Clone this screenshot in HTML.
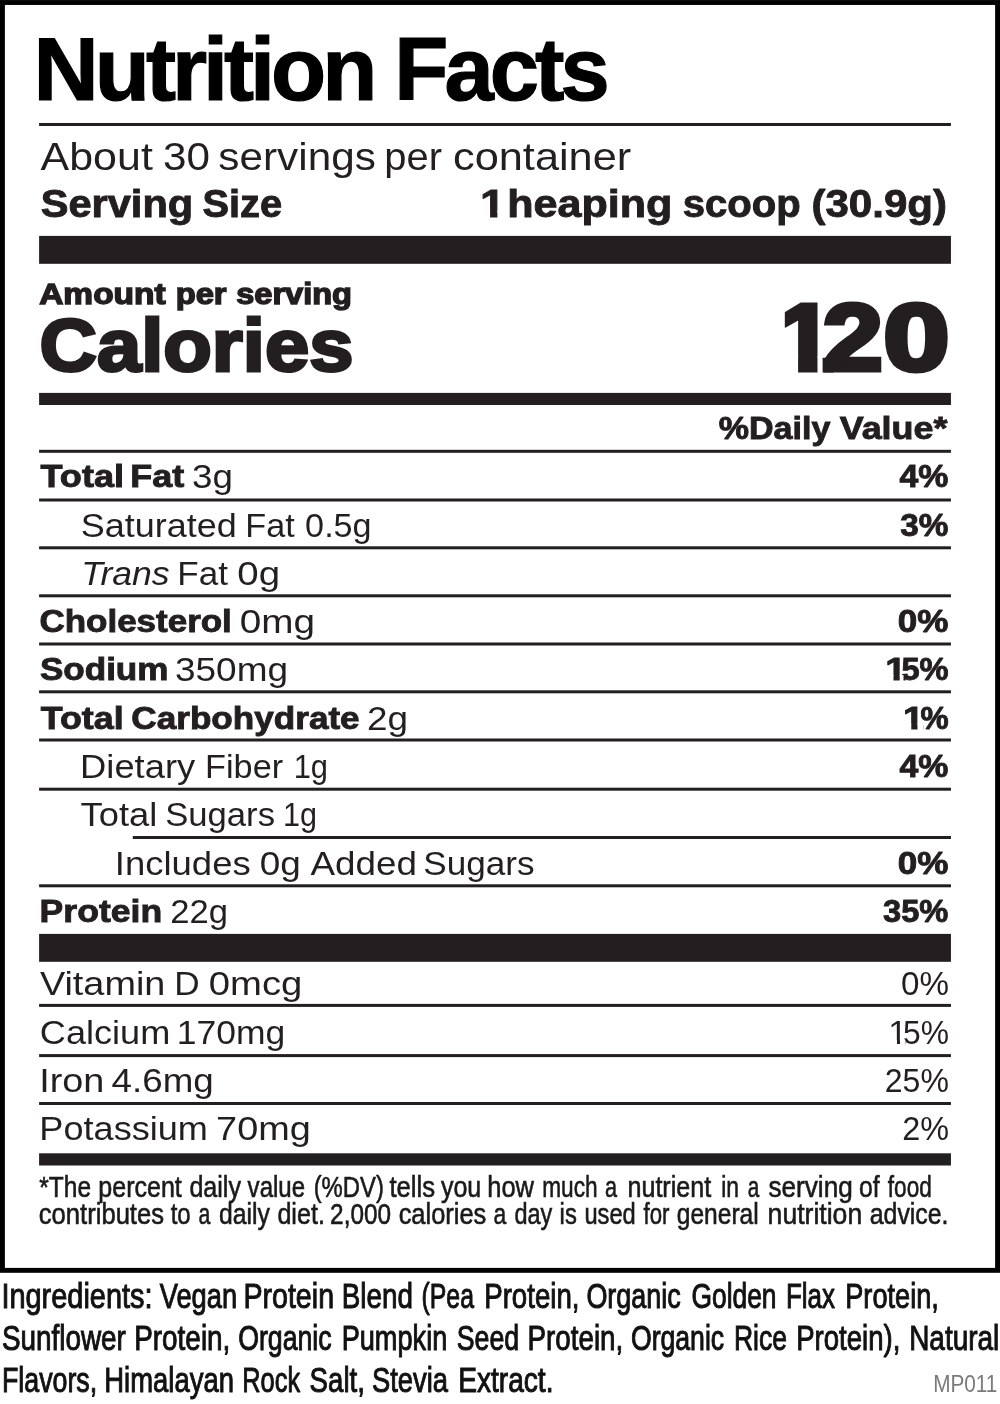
<!DOCTYPE html>
<html lang="en"><head><meta charset="utf-8"><title>Nutrition Facts</title>
<style>html,body{margin:0;padding:0;background:#fff}body{width:1000px;height:1404px;overflow:hidden}svg{display:block}text{white-space:pre}</style></head><body>
<svg width="1000" height="1404" viewBox="0 0 1000 1404">
<defs><mask id="c0" maskUnits="userSpaceOnUse" x="0" y="0" width="1000" height="1404"><rect x="0" y="0" width="1000" height="1404" fill="#fff"/><rect x="478.42" y="210.83" width="11.66" height="10.27" fill="#000"/><rect x="497.40" y="210.83" width="10.08" height="10.27" fill="#000"/></mask><mask id="c1" maskUnits="userSpaceOnUse" x="0" y="0" width="1000" height="1404"><rect x="0" y="0" width="1000" height="1404" fill="#fff"/><rect x="772.71" y="356.49" width="25.38" height="24.21" fill="#000"/><rect x="817.50" y="356.49" width="5.10" height="24.21" fill="#000"/><rect x="766.59" y="296.90" width="18.21" height="59.59" fill="#000"/></mask><mask id="c2" maskUnits="userSpaceOnUse" x="0" y="0" width="1000" height="1404"><rect x="0" y="0" width="1000" height="1404" fill="#fff"/><rect x="883.18" y="675.01" width="10.29" height="9.59" fill="#000"/><rect x="899.70" y="675.01" width="3.80" height="9.59" fill="#000"/></mask><mask id="c3" maskUnits="userSpaceOnUse" x="0" y="0" width="1000" height="1404"><rect x="0" y="0" width="1000" height="1404" fill="#fff"/><rect x="900.98" y="723.81" width="10.29" height="9.59" fill="#000"/><rect x="917.50" y="723.81" width="5.90" height="9.59" fill="#000"/></mask><mask id="c4" maskUnits="userSpaceOnUse" x="0" y="0" width="1000" height="1404"><rect x="0" y="0" width="1000" height="1404" fill="#fff"/><rect x="887.99" y="1039.67" width="8.99" height="7.03" fill="#000"/><rect x="900.00" y="1039.67" width="5.30" height="7.03" fill="#000"/></mask></defs>
<rect x="0" y="0" width="1000" height="1404" fill="#fff"/>
<rect x="2.45" y="2.5" width="995.1" height="1267.85" fill="none" stroke="#000" stroke-width="4.9"/>
<rect x="39.10" y="123.00" width="911.85" height="3.00" fill="#231f20"/>
<rect x="39.10" y="235.90" width="911.85" height="27.90" fill="#231f20"/>
<rect x="39.10" y="392.90" width="911.85" height="12.10" fill="#231f20"/>
<rect x="39.10" y="449.80" width="911.85" height="3.00" fill="#231f20"/>
<rect x="39.10" y="498.50" width="911.85" height="3.00" fill="#231f20"/>
<rect x="39.10" y="546.30" width="911.85" height="3.00" fill="#231f20"/>
<rect x="39.10" y="594.30" width="911.85" height="3.00" fill="#231f20"/>
<rect x="39.10" y="642.50" width="911.85" height="3.00" fill="#231f20"/>
<rect x="39.10" y="690.30" width="911.85" height="3.00" fill="#231f20"/>
<rect x="39.10" y="738.50" width="911.85" height="3.00" fill="#231f20"/>
<rect x="39.10" y="787.70" width="911.85" height="3.00" fill="#231f20"/>
<rect x="132.80" y="836.00" width="818.15" height="3.00" fill="#231f20"/>
<rect x="39.10" y="884.30" width="911.85" height="3.00" fill="#231f20"/>
<rect x="39.10" y="933.90" width="911.85" height="27.90" fill="#231f20"/>
<rect x="39.10" y="1003.90" width="911.85" height="3.00" fill="#231f20"/>
<rect x="39.10" y="1054.10" width="911.85" height="3.00" fill="#231f20"/>
<rect x="39.10" y="1102.00" width="911.85" height="3.00" fill="#231f20"/>
<rect x="39.10" y="1153.30" width="911.85" height="12.20" fill="#231f20"/>
<text y="100.20" font-family="'Liberation Sans', sans-serif" font-size="89.53" font-weight="700" fill="#000" stroke="#000" stroke-width="1.2" stroke-linejoin="miter" stroke-miterlimit="2" letter-spacing="-4.03"><tspan x="33.63" textLength="339.66" lengthAdjust="spacingAndGlyphs">Nutrition</tspan> <tspan x="394.37" textLength="211.35" lengthAdjust="spacingAndGlyphs">Facts</tspan></text>
<text y="169.80" font-family="'Liberation Sans', sans-serif" font-size="38.66" font-weight="400" fill="#231f20"><tspan x="40.62" textLength="112.21" lengthAdjust="spacingAndGlyphs">About</tspan> <tspan x="162.92" textLength="46.96" lengthAdjust="spacingAndGlyphs">30</tspan> <tspan x="218.39" textLength="157.44" lengthAdjust="spacingAndGlyphs">servings</tspan> <tspan x="384.27" textLength="57.66" lengthAdjust="spacingAndGlyphs">per</tspan> <tspan x="453.00" textLength="178.22" lengthAdjust="spacingAndGlyphs">container</tspan></text>
<text y="216.75" font-family="'Liberation Sans', sans-serif" font-size="37.94" font-weight="700" fill="#231f20" stroke="#231f20" stroke-width="0.9" stroke-linejoin="miter" stroke-miterlimit="2"><tspan x="40.66" textLength="152.56" lengthAdjust="spacingAndGlyphs">Serving</tspan> <tspan x="202.54" textLength="79.59" lengthAdjust="spacingAndGlyphs">Size</tspan></text>
<text y="216.75" font-family="'Liberation Sans', sans-serif" font-size="37.94" font-weight="700" fill="#231f20" stroke="#231f20" stroke-width="0.9" stroke-linejoin="miter" stroke-miterlimit="2" mask="url(#c0)"><tspan x="479.99" textLength="25.31" lengthAdjust="spacingAndGlyphs">1</tspan> <tspan x="507.32" textLength="165.04" lengthAdjust="spacingAndGlyphs">heaping</tspan> <tspan x="682.75" textLength="118.00" lengthAdjust="spacingAndGlyphs">scoop</tspan> <tspan x="811.53" textLength="135.40" lengthAdjust="spacingAndGlyphs">(30.9g)</tspan></text>
<text y="303.80" font-family="'Liberation Sans', sans-serif" font-size="29.22" font-weight="700" fill="#231f20" stroke="#231f20" stroke-width="1.4" stroke-linejoin="miter" stroke-miterlimit="2"><tspan x="39.21" textLength="126.42" lengthAdjust="spacingAndGlyphs">Amount</tspan> <tspan x="175.65" textLength="50.97" lengthAdjust="spacingAndGlyphs">per</tspan> <tspan x="236.23" textLength="115.78" lengthAdjust="spacingAndGlyphs">serving</tspan></text>
<text transform="translate(39.45 371.20) scale(1.0841 1)" font-family="'Liberation Sans', sans-serif" font-size="73.40" font-weight="700" fill="#231f20" stroke="#231f20" stroke-width="3" stroke-linejoin="miter" stroke-miterlimit="2">Calories</text>
<text y="370.20" font-family="'Liberation Sans', sans-serif" font-size="94.19" font-weight="700" fill="#231f20" stroke="#231f20" stroke-width="5" stroke-linejoin="miter" stroke-miterlimit="2" mask="url(#c1)"><tspan x="776.99" textLength="56.72" lengthAdjust="spacingAndGlyphs">1</tspan><tspan x="822.82" textLength="59.99" lengthAdjust="spacingAndGlyphs">2</tspan><tspan x="883.62" textLength="65.94" lengthAdjust="spacingAndGlyphs">0</tspan></text>
<text y="438.75" font-family="'Liberation Sans', sans-serif" font-size="31.10" font-weight="700" fill="#231f20" stroke="#231f20" stroke-width="0.9" stroke-linejoin="miter" stroke-miterlimit="2"><tspan x="718.72" textLength="111.62" lengthAdjust="spacingAndGlyphs">%Daily</tspan> <tspan x="839.70" textLength="107.71" lengthAdjust="spacingAndGlyphs">Value*</tspan></text>
<text y="487.35" font-family="'Liberation Sans', sans-serif" font-size="31.25" font-weight="700" fill="#231f20" stroke="#231f20" stroke-width="0.9" stroke-linejoin="miter" stroke-miterlimit="2"><tspan x="40.52" textLength="83.48" lengthAdjust="spacingAndGlyphs">Total</tspan> <tspan x="130.22" textLength="53.88" lengthAdjust="spacingAndGlyphs">Fat</tspan></text>
<text transform="translate(192.04 487.80) scale(1.1283 1)" font-family="'Liberation Sans', sans-serif" font-size="32.56" font-weight="400" fill="#231f20">3g</text>
<text transform="translate(899.44 487.35) scale(1.0833 1)" font-family="'Liberation Sans', sans-serif" font-size="31.25" font-weight="700" fill="#231f20" stroke="#231f20" stroke-width="0.9" stroke-linejoin="miter" stroke-miterlimit="2">4%</text>
<text y="536.50" font-family="'Liberation Sans', sans-serif" font-size="32.56" font-weight="400" fill="#231f20"><tspan x="80.84" textLength="156.03" lengthAdjust="spacingAndGlyphs">Saturated</tspan> <tspan x="245.33" textLength="49.38" lengthAdjust="spacingAndGlyphs">Fat</tspan> <tspan x="305.14" textLength="66.51" lengthAdjust="spacingAndGlyphs">0.5g</tspan></text>
<text transform="translate(900.19 536.05) scale(1.0665 1)" font-family="'Liberation Sans', sans-serif" font-size="31.25" font-weight="700" fill="#231f20" stroke="#231f20" stroke-width="0.9" stroke-linejoin="miter" stroke-miterlimit="2">3%</text>
<text transform="translate(81.31 584.90) scale(1.0932 1)" font-family="'Liberation Sans', sans-serif" font-size="32.56" font-weight="400" fill="#231f20" font-style="italic">Trans</text>
<text y="584.90" font-family="'Liberation Sans', sans-serif" font-size="32.56" font-weight="400" fill="#231f20"><tspan x="177.27" textLength="50.61" lengthAdjust="spacingAndGlyphs">Fat</tspan> <tspan x="237.31" textLength="42.71" lengthAdjust="spacingAndGlyphs">0g</tspan></text>
<text transform="translate(39.43 632.35) scale(1.1198 1)" font-family="'Liberation Sans', sans-serif" font-size="31.25" font-weight="700" fill="#231f20" stroke="#231f20" stroke-width="0.9" stroke-linejoin="miter" stroke-miterlimit="2">Cholesterol</text>
<text transform="translate(239.81 632.80) scale(1.1889 1)" font-family="'Liberation Sans', sans-serif" font-size="32.56" font-weight="400" fill="#231f20">0mg</text>
<text transform="translate(897.73 632.35) scale(1.1212 1)" font-family="'Liberation Sans', sans-serif" font-size="31.25" font-weight="700" fill="#231f20" stroke="#231f20" stroke-width="0.9" stroke-linejoin="miter" stroke-miterlimit="2">0%</text>
<text transform="translate(39.97 680.25) scale(1.1217 1)" font-family="'Liberation Sans', sans-serif" font-size="31.25" font-weight="700" fill="#231f20" stroke="#231f20" stroke-width="0.9" stroke-linejoin="miter" stroke-miterlimit="2">Sodium</text>
<text transform="translate(174.99 680.70) scale(1.1357 1)" font-family="'Liberation Sans', sans-serif" font-size="32.56" font-weight="400" fill="#231f20">350mg</text>
<text y="680.25" font-family="'Liberation Sans', sans-serif" font-size="31.25" font-weight="700" fill="#231f20" stroke="#231f20" stroke-width="0.9" stroke-linejoin="miter" stroke-miterlimit="2" mask="url(#c2)"><tspan x="885.26" textLength="20.86" lengthAdjust="spacingAndGlyphs">1</tspan><tspan x="901.48" textLength="47.16" lengthAdjust="spacingAndGlyphs">5%</tspan></text>
<text y="729.05" font-family="'Liberation Sans', sans-serif" font-size="31.25" font-weight="700" fill="#231f20" stroke="#231f20" stroke-width="0.9" stroke-linejoin="miter" stroke-miterlimit="2"><tspan x="40.76" textLength="82.87" lengthAdjust="spacingAndGlyphs">Total</tspan> <tspan x="131.38" textLength="228.26" lengthAdjust="spacingAndGlyphs">Carbohydrate</tspan></text>
<text transform="translate(367.02 729.50) scale(1.1322 1)" font-family="'Liberation Sans', sans-serif" font-size="32.56" font-weight="400" fill="#231f20">2g</text>
<text y="729.05" font-family="'Liberation Sans', sans-serif" font-size="31.25" font-weight="700" fill="#231f20" stroke="#231f20" stroke-width="0.9" stroke-linejoin="miter" stroke-miterlimit="2" mask="url(#c3)"><tspan x="903.06" textLength="20.86" lengthAdjust="spacingAndGlyphs">1</tspan><tspan x="920.44" textLength="28.14" lengthAdjust="spacingAndGlyphs">%</tspan></text>
<text y="777.60" font-family="'Liberation Sans', sans-serif" font-size="32.56" font-weight="400" fill="#231f20"><tspan x="80.12" textLength="115.06" lengthAdjust="spacingAndGlyphs">Dietary</tspan> <tspan x="205.09" textLength="78.04" lengthAdjust="spacingAndGlyphs">Fiber</tspan> <tspan x="293.66" textLength="34.33" lengthAdjust="spacingAndGlyphs">1g</tspan></text>
<text transform="translate(899.44 777.15) scale(1.0833 1)" font-family="'Liberation Sans', sans-serif" font-size="31.25" font-weight="700" fill="#231f20" stroke="#231f20" stroke-width="0.9" stroke-linejoin="miter" stroke-miterlimit="2">4%</text>
<text y="825.90" font-family="'Liberation Sans', sans-serif" font-size="32.56" font-weight="400" fill="#231f20"><tspan x="80.62" textLength="76.76" lengthAdjust="spacingAndGlyphs">Total</tspan> <tspan x="165.21" textLength="109.78" lengthAdjust="spacingAndGlyphs">Sugars</tspan> <tspan x="283.12" textLength="33.99" lengthAdjust="spacingAndGlyphs">1g</tspan></text>
<text y="874.60" font-family="'Liberation Sans', sans-serif" font-size="32.56" font-weight="400" fill="#231f20"><tspan x="114.77" textLength="135.95" lengthAdjust="spacingAndGlyphs">Includes</tspan> <tspan x="259.87" textLength="41.00" lengthAdjust="spacingAndGlyphs">0g</tspan> <tspan x="310.46" textLength="106.45" lengthAdjust="spacingAndGlyphs">Added</tspan> <tspan x="423.32" textLength="111.28" lengthAdjust="spacingAndGlyphs">Sugars</tspan></text>
<text transform="translate(897.73 874.15) scale(1.1212 1)" font-family="'Liberation Sans', sans-serif" font-size="31.25" font-weight="700" fill="#231f20" stroke="#231f20" stroke-width="0.9" stroke-linejoin="miter" stroke-miterlimit="2">0%</text>
<text transform="translate(39.60 922.35) scale(1.1391 1)" font-family="'Liberation Sans', sans-serif" font-size="31.25" font-weight="700" fill="#231f20" stroke="#231f20" stroke-width="0.9" stroke-linejoin="miter" stroke-miterlimit="2">Protein</text>
<text transform="translate(170.22 922.80) scale(1.0630 1)" font-family="'Liberation Sans', sans-serif" font-size="32.56" font-weight="400" fill="#231f20">22g</text>
<text transform="translate(882.97 922.35) scale(1.0450 1)" font-family="'Liberation Sans', sans-serif" font-size="31.25" font-weight="700" fill="#231f20" stroke="#231f20" stroke-width="0.9" stroke-linejoin="miter" stroke-miterlimit="2">35%</text>
<text y="994.80" font-family="'Liberation Sans', sans-serif" font-size="32.56" font-weight="400" fill="#231f20"><tspan x="39.91" textLength="125.47" lengthAdjust="spacingAndGlyphs">Vitamin</tspan> <tspan x="174.24" textLength="25.38" lengthAdjust="spacingAndGlyphs">D</tspan> <tspan x="208.82" textLength="93.58" lengthAdjust="spacingAndGlyphs">0mcg</tspan></text>
<text transform="translate(900.98 994.80) scale(1.0199 1)" font-family="'Liberation Sans', sans-serif" font-size="32.56" font-weight="400" fill="#231f20">0%</text>
<text y="1043.70" font-family="'Liberation Sans', sans-serif" font-size="32.56" font-weight="400" fill="#231f20"><tspan x="39.84" textLength="130.46" lengthAdjust="spacingAndGlyphs">Calcium</tspan> <tspan x="176.80" textLength="108.43" lengthAdjust="spacingAndGlyphs">170mg</tspan></text>
<text y="1043.70" font-family="'Liberation Sans', sans-serif" font-size="32.56" font-weight="400" fill="#231f20" mask="url(#c4)"><tspan x="888.38" textLength="19.01" lengthAdjust="spacingAndGlyphs">1</tspan><tspan x="902.96" textLength="45.96" lengthAdjust="spacingAndGlyphs">5%</tspan></text>
<text y="1091.80" font-family="'Liberation Sans', sans-serif" font-size="32.56" font-weight="400" fill="#231f20"><tspan x="39.20" textLength="65.24" lengthAdjust="spacingAndGlyphs">Iron</tspan> <tspan x="111.55" textLength="102.17" lengthAdjust="spacingAndGlyphs">4.6mg</tspan></text>
<text transform="translate(884.79 1091.80) scale(0.9846 1)" font-family="'Liberation Sans', sans-serif" font-size="32.56" font-weight="400" fill="#231f20">25%</text>
<text y="1139.70" font-family="'Liberation Sans', sans-serif" font-size="32.56" font-weight="400" fill="#231f20"><tspan x="39.33" textLength="168.64" lengthAdjust="spacingAndGlyphs">Potassium</tspan> <tspan x="216.14" textLength="94.62" lengthAdjust="spacingAndGlyphs">70mg</tspan></text>
<text transform="translate(902.13 1139.70) scale(0.9950 1)" font-family="'Liberation Sans', sans-serif" font-size="32.56" font-weight="400" fill="#231f20">2%</text>
<text y="1196.50" font-family="'Liberation Sans', sans-serif" font-size="29.07" font-weight="400" fill="#1a1a1a" stroke="#1a1a1a" stroke-width="0.6" stroke-linejoin="miter" stroke-miterlimit="2"><tspan x="39.32" textLength="51.72" lengthAdjust="spacingAndGlyphs">*The</tspan> <tspan x="98.29" textLength="83.51" lengthAdjust="spacingAndGlyphs">percent</tspan> <tspan x="189.39" textLength="51.63" lengthAdjust="spacingAndGlyphs">daily</tspan> <tspan x="247.62" textLength="57.49" lengthAdjust="spacingAndGlyphs">value</tspan> <tspan x="313.63" textLength="70.24" lengthAdjust="spacingAndGlyphs">(%DV)</tspan> <tspan x="389.39" textLength="45.73" lengthAdjust="spacingAndGlyphs">tells</tspan> <tspan x="440.92" textLength="40.34" lengthAdjust="spacingAndGlyphs">you</tspan> <tspan x="487.26" textLength="46.75" lengthAdjust="spacingAndGlyphs">how</tspan> <tspan x="542.26" textLength="55.39" lengthAdjust="spacingAndGlyphs">much</tspan> <tspan x="605.05" textLength="12.06" lengthAdjust="spacingAndGlyphs">a</tspan> <tspan x="627.46" textLength="83.74" lengthAdjust="spacingAndGlyphs">nutrient</tspan> <tspan x="721.18" textLength="17.81" lengthAdjust="spacingAndGlyphs">in</tspan> <tspan x="747.68" textLength="11.50" lengthAdjust="spacingAndGlyphs">a</tspan> <tspan x="768.47" textLength="84.22" lengthAdjust="spacingAndGlyphs">serving</tspan> <tspan x="859.00" textLength="20.60" lengthAdjust="spacingAndGlyphs">of</tspan> <tspan x="887.83" textLength="43.90" lengthAdjust="spacingAndGlyphs">food</tspan></text>
<text y="1224.20" font-family="'Liberation Sans', sans-serif" font-size="29.07" font-weight="400" fill="#1a1a1a" stroke="#1a1a1a" stroke-width="0.6" stroke-linejoin="miter" stroke-miterlimit="2"><tspan x="38.81" textLength="125.23" lengthAdjust="spacingAndGlyphs">contributes</tspan> <tspan x="170.73" textLength="19.97" lengthAdjust="spacingAndGlyphs">to</tspan> <tspan x="198.44" textLength="11.85" lengthAdjust="spacingAndGlyphs">a</tspan> <tspan x="219.00" textLength="50.85" lengthAdjust="spacingAndGlyphs">daily</tspan> <tspan x="277.39" textLength="47.54" lengthAdjust="spacingAndGlyphs">diet.</tspan> <tspan x="330.12" textLength="60.86" lengthAdjust="spacingAndGlyphs">2,000</tspan> <tspan x="398.65" textLength="87.68" lengthAdjust="spacingAndGlyphs">calories</tspan> <tspan x="493.54" textLength="12.73" lengthAdjust="spacingAndGlyphs">a</tspan> <tspan x="514.43" textLength="37.84" lengthAdjust="spacingAndGlyphs">day</tspan> <tspan x="559.62" textLength="17.23" lengthAdjust="spacingAndGlyphs">is</tspan> <tspan x="584.44" textLength="51.33" lengthAdjust="spacingAndGlyphs">used</tspan> <tspan x="643.60" textLength="25.92" lengthAdjust="spacingAndGlyphs">for</tspan> <tspan x="676.80" textLength="81.86" lengthAdjust="spacingAndGlyphs">general</tspan> <tspan x="767.62" textLength="94.56" lengthAdjust="spacingAndGlyphs">nutrition</tspan> <tspan x="869.77" textLength="78.77" lengthAdjust="spacingAndGlyphs">advice.</tspan></text>
<text y="1308.30" font-family="'Liberation Sans', sans-serif" font-size="35.76" font-weight="400" fill="#111" stroke="#111" stroke-width="1.0" stroke-linejoin="miter" stroke-miterlimit="2"><tspan x="1.42" textLength="151.10" lengthAdjust="spacingAndGlyphs">Ingredients:</tspan> <tspan x="159.75" textLength="77.30" lengthAdjust="spacingAndGlyphs">Vegan</tspan> <tspan x="243.39" textLength="90.67" lengthAdjust="spacingAndGlyphs">Protein</tspan> <tspan x="341.76" textLength="71.15" lengthAdjust="spacingAndGlyphs">Blend</tspan> <tspan x="421.55" textLength="52.43" lengthAdjust="spacingAndGlyphs">(Pea</tspan> <tspan x="484.22" textLength="95.32" lengthAdjust="spacingAndGlyphs">Protein,</tspan> <tspan x="586.39" textLength="94.41" lengthAdjust="spacingAndGlyphs">Organic</tspan> <tspan x="691.57" textLength="84.95" lengthAdjust="spacingAndGlyphs">Golden</tspan> <tspan x="785.96" textLength="49.11" lengthAdjust="spacingAndGlyphs">Flax</tspan> <tspan x="845.28" textLength="93.56" lengthAdjust="spacingAndGlyphs">Protein,</tspan></text>
<text y="1350.20" font-family="'Liberation Sans', sans-serif" font-size="35.76" font-weight="400" fill="#111" stroke="#111" stroke-width="1.0" stroke-linejoin="miter" stroke-miterlimit="2"><tspan x="1.90" textLength="124.02" lengthAdjust="spacingAndGlyphs">Sunflower</tspan> <tspan x="134.19" textLength="96.18" lengthAdjust="spacingAndGlyphs">Protein,</tspan> <tspan x="238.16" textLength="93.48" lengthAdjust="spacingAndGlyphs">Organic</tspan> <tspan x="341.66" textLength="105.60" lengthAdjust="spacingAndGlyphs">Pumpkin</tspan> <tspan x="456.74" textLength="62.49" lengthAdjust="spacingAndGlyphs">Seed</tspan> <tspan x="527.55" textLength="95.65" lengthAdjust="spacingAndGlyphs">Protein,</tspan> <tspan x="630.93" textLength="93.22" lengthAdjust="spacingAndGlyphs">Organic</tspan> <tspan x="733.89" textLength="53.08" lengthAdjust="spacingAndGlyphs">Rice</tspan> <tspan x="796.23" textLength="104.07" lengthAdjust="spacingAndGlyphs">Protein),</tspan> <tspan x="909.19" textLength="90.10" lengthAdjust="spacingAndGlyphs">Natural</tspan></text>
<text y="1392.40" font-family="'Liberation Sans', sans-serif" font-size="35.76" font-weight="400" fill="#111" stroke="#111" stroke-width="1.0" stroke-linejoin="miter" stroke-miterlimit="2"><tspan x="1.91" textLength="95.30" lengthAdjust="spacingAndGlyphs">Flavors,</tspan> <tspan x="104.24" textLength="129.68" lengthAdjust="spacingAndGlyphs">Himalayan</tspan> <tspan x="242.28" textLength="57.88" lengthAdjust="spacingAndGlyphs">Rock</tspan> <tspan x="309.61" textLength="55.27" lengthAdjust="spacingAndGlyphs">Salt,</tspan> <tspan x="371.99" textLength="76.11" lengthAdjust="spacingAndGlyphs">Stevia</tspan> <tspan x="458.17" textLength="95.34" lengthAdjust="spacingAndGlyphs">Extract.</tspan></text>
<text transform="translate(933.19 1391.60) scale(0.8929 1)" font-family="'Liberation Sans', sans-serif" font-size="23.26" font-weight="400" fill="#7a7a7a">MP011</text>
</svg></body></html>
